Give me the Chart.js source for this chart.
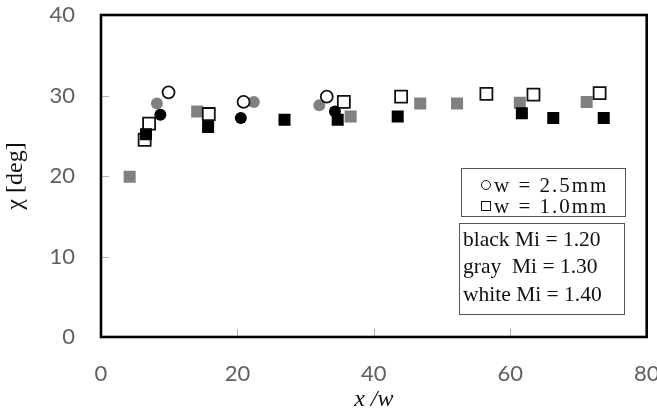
<!DOCTYPE html>
<html>
<head>
<meta charset="utf-8">
<script src="https://cdn.jsdelivr.net/npm/chart.js@4/dist/chart.umd.min.js"></script>
<style>
  html, body { margin: 0; padding: 0; background: #fff; }
  #wrap { position: relative; width: 657px; height: 409px; overflow: hidden; }
  #c { position: absolute; left: 0; top: 0; }
  .box { position: absolute; box-sizing: border-box; border: 1.5px solid #555; background: #fff; }
  .t { position: absolute; font-family: "Liberation Serif", "Times New Roman", serif; font-size: 21px; line-height: 21px; color: #111; white-space: pre; }
  .mk { position: absolute; box-sizing: border-box; border: 1.8px solid #111; background: #fff; }
</style>
</head>
<body>
<div id="wrap">
  <canvas id="c" width="657" height="409"></canvas>
  <div class="box" style="left:461px;top:168px;width:165px;height:49px;"></div>
  <div class="mk" style="left:481px;top:180px;width:10px;height:10px;border-radius:50%;"></div>
  <div class="t" style="left:494px;top:175px;letter-spacing:2px;">w = 2.5mm</div>
  <div class="mk" style="left:481px;top:201px;width:10px;height:10px;"></div>
  <div class="t" style="left:494px;top:196px;letter-spacing:2px;">w = 1.0mm</div>
  <div class="box" style="left:459px;top:223px;width:166px;height:92px;"></div>
  <div class="t" style="left:463px;top:229px;font-size:21.5px;">black Mi = 1.20</div>
  <div class="t" style="left:463px;top:256px;font-size:21.5px;">gray  Mi = 1.30</div>
  <div class="t" style="left:463px;top:284px;font-size:21.5px;">white Mi = 1.40</div>
</div>
<script>
// ---- data ----
const xTicks = [0, 20, 40, 60, 80];
const yTicks = [0, 10, 20, 30, 40];

// w = 2.5 mm (circles)
const circBlackX = [8.7, 20.5, 34.3];
const circBlackY = [27.6, 27.2, 28.0];
const circGrayX  = [8.2, 22.4, 32.0];
const circGrayY  = [29.0, 29.2, 28.8];
const circWhiteX = [9.9, 20.9, 33.1];
const circWhiteY = [30.4, 29.2, 29.85];

// w = 1.0 mm (squares)
const sqBlackX = [6.6, 15.7, 26.9, 34.7, 43.5, 61.7, 66.3, 73.7];
const sqBlackY = [25.2, 26.1, 27.0, 27.0, 27.4, 27.8, 27.2, 27.2];
const sqGrayX  = [4.2, 14.1, 36.6, 46.8, 52.2, 61.4, 71.2];
const sqGrayY  = [19.9, 28.0, 27.4, 29.0, 29.0, 29.1, 29.2];
const sqWhiteX = [6.4, 7.05, 15.8, 35.6, 44.0, 56.5, 63.4, 73.1];
const sqWhiteY = [24.5, 26.5, 27.7, 29.2, 29.85, 30.2, 30.1, 30.3];

const zip = (xs, ys) => xs.map((x, i) => ({ x: x, y: ys[i] }));

const GRAY = '#808080';
function ds(label, xs, ys, style, fill, order) {
  const isWhite = fill === '#ffffff';
  return {
    label: label,
    data: zip(xs, ys),
    pointStyle: style,
    pointRadius: style === 'circle' ? 6 : 8.5,
    pointHoverRadius: style === 'circle' ? 6 : 8.5,
    backgroundColor: fill,
    borderColor: isWhite ? '#111' : fill,
    borderWidth: isWhite ? 1.8 : 0,
    showLine: false,
    order: order
  };
}

const framePlugin = {
  id: 'frame',
  beforeDatasetsDraw(chart) {
    const { ctx, chartArea: a, scales } = chart;
    ctx.save();
    // inward tick marks
    ctx.strokeStyle = '#b0b0b0';
    ctx.lineWidth = 1;
    yTicks.slice(1, -1).forEach(v => {
      const y = Math.round(scales.y.getPixelForValue(v)) + 0.5;
      ctx.beginPath(); ctx.moveTo(a.left, y); ctx.lineTo(a.left + 8, y); ctx.stroke();
    });
    xTicks.slice(1, -1).forEach(v => {
      const x = Math.round(scales.x.getPixelForValue(v)) + 0.5;
      ctx.beginPath(); ctx.moveTo(x, a.bottom); ctx.lineTo(x, a.bottom - 8); ctx.stroke();
    });
    ctx.strokeStyle = '#000';
    ctx.lineWidth = 2.6;
    ctx.strokeRect(a.left, a.top, a.right - a.left, a.bottom - a.top);
    ctx.restore();
  }
};

new Chart(document.getElementById('c'), {
  type: 'scatter',
  data: {
    datasets: [
      ds('gray w=2.5mm',  circGrayX,  circGrayY,  'circle', GRAY, 3),
      ds('gray w=1.0mm',  sqGrayX,    sqGrayY,    'rect',   GRAY, 3),
      ds('white w=2.5mm', circWhiteX, circWhiteY, 'circle', '#ffffff', 2),
      ds('white w=1.0mm', sqWhiteX,   sqWhiteY,   'rect',   '#ffffff', 2),
      ds('black w=2.5mm', circBlackX, circBlackY, 'circle', '#000000', 1),
      ds('black w=1.0mm', sqBlackX,   sqBlackY,   'rect',   '#000000', 1)
    ]
  },
  options: {
    responsive: false,
    animation: false,
    devicePixelRatio: 1,
    layout: { padding: { top: 15, right: 8, left: 0, bottom: 0 } },
    plugins: { legend: { display: false }, tooltip: { enabled: false } },
    scales: {
      x: {
        type: 'linear', min: 0, max: 80,
        afterBuildTicks(s) { s.ticks = xTicks.map(v => ({ value: v })); },
        afterFit(s) { s.height = 72; s.paddingLeft = 0; s.paddingRight = 0; },
        grid: { display: false, drawTicks: false },
        border: { display: false },
        ticks: { padding: 24, color: '#606060', font: { family: 'Lato', size: 22 } },
        title: {
          display: true, text: 'x /w', color: '#111',
          font: { family: 'Liberation Serif', size: 24, style: 'italic', lineHeight: 1 },
          padding: { top: 0, bottom: -3 }
        }
      },
      y: {
        type: 'linear', min: 0, max: 40,
        afterBuildTicks(s) { s.ticks = yTicks.map(v => ({ value: v })); },
        afterFit(s) { s.width = 101; s.paddingTop = 0; s.paddingBottom = 0; },
        grid: { display: false, drawTicks: false },
        border: { display: false },
        ticks: { padding: 26, color: '#606060', font: { family: 'Lato', size: 22 } },
        title: {
          display: true, text: 'χ [deg]', color: '#111',
          font: { family: 'Liberation Serif', size: 24 },
          padding: { top: 1, bottom: 0 }
        }
      }
    }
  },
  plugins: [framePlugin]
});
</script>
</body>
</html>
